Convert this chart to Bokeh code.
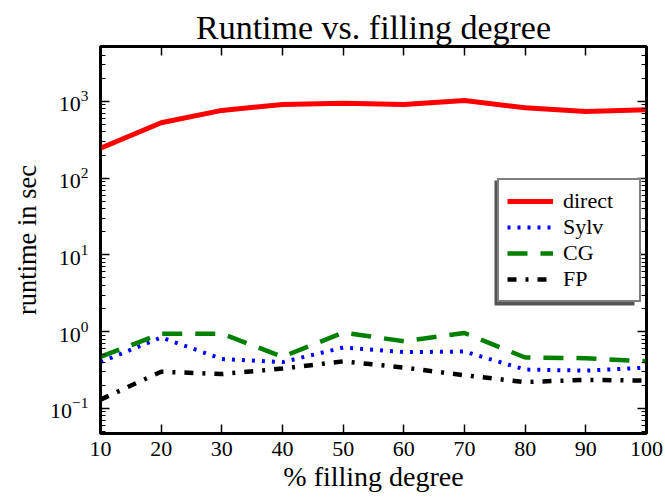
from bokeh.plotting import figure
from bokeh.models import (Legend, LegendItem, LinearAxis, LogAxis, SingleIntervalTicker,
                          LogTicker, Range1d, CustomJSTickFormatter, BoxAnnotation)
from bokeh.embed import file_html
from bokeh.resources import INLINE

fill = [10, 20, 30, 40, 50, 60, 70, 80, 90, 100]
direct = [245, 527, 764, 912, 950, 912, 1030, 828, 742, 780]
sylv = [0.40, 0.84, 0.44, 0.40, 0.62, 0.54, 0.55, 0.32, 0.31, 0.34]
cg = [0.47, 0.94, 0.94, 0.47, 0.97, 0.75, 0.96, 0.46, 0.45, 0.41]
fp = [0.13, 0.30, 0.28, 0.33, 0.41, 0.34, 0.27, 0.22, 0.235, 0.23]

FONT = "Liberation Serif"

p = figure(width=665, height=501, output_backend="svg", toolbar_location=None,
           y_axis_type="log", x_range=Range1d(10, 100), y_range=Range1d(0.047, 5200),
           min_border_left=100, min_border_right=19, min_border_top=46, min_border_bottom=68)
p.grid.visible = False
p.title.text = "Runtime vs. filling degree"
p.title.text_font = FONT
p.title.text_font_size = "34px"
p.title.text_font_style = "normal"
p.title.text_color = "black"
p.title.align = "center"
p.title.standoff = 2
p.outline_line_color = "black"
p.outline_line_width = 3
p.background_fill_color = "white"
p.border_fill_color = "white"

p.xaxis.ticker = SingleIntervalTicker(interval=10, num_minor_ticks=0)
p.yaxis.ticker = LogTicker(num_minor_ticks=10)
for ax in [p.xaxis[0], p.yaxis[0]]:
    ax.major_label_text_font = FONT
    ax.major_label_text_font_size = "22px"
    ax.major_label_text_color = "black"
    ax.axis_label_text_font = FONT
    ax.axis_label_text_font_style = "normal"
    ax.axis_label_text_color = "black"
    ax.major_tick_in = 9
    ax.major_tick_out = 0
    ax.minor_tick_in = 5
    ax.minor_tick_out = 0
    ax.axis_line_width = 2
    ax.major_tick_line_width = 1.5
p.xaxis.axis_label = "% filling degree"
p.yaxis.axis_label = "runtime in sec"
p.xaxis.axis_label_text_font_size = "28px"
p.yaxis.axis_label_text_font_size = "26.5px"
p.xaxis.major_label_standoff = 8
p.yaxis.major_label_standoff = 12
p.xaxis.axis_label_standoff = 2
p.yaxis.axis_label_standoff = 5

blank = CustomJSTickFormatter(code="return '';")
top = LinearAxis(ticker=SingleIntervalTicker(interval=10, num_minor_ticks=0),
                 formatter=blank, major_label_standoff=0, major_tick_in=9, major_tick_out=0,
                 minor_tick_in=0, minor_tick_out=0, axis_line_width=2, major_tick_line_width=1.5)
right = LogAxis(ticker=LogTicker(num_minor_ticks=10), formatter=blank, major_label_standoff=0,
                major_tick_in=9, major_tick_out=0, minor_tick_in=5, minor_tick_out=0,
                axis_line_width=2, major_tick_line_width=1.5)
p.add_layout(top, "above")
p.add_layout(right, "right")

r1 = p.line(fill, direct, line_color="#ff0000", line_width=5)
r2 = p.line(fill, sylv, line_color="#0000ff", line_width=4, line_dash="3 7")
r3 = p.line(fill, cg, line_color="#008000", line_width=4.5, line_dash="20 13")
r4 = p.line(fill, fp, line_color="black", line_width=4.5, line_dash="9 9 3 9")

shadow = BoxAnnotation(left=394, right=534, bottom=128, top=253,
                       left_units="screen", right_units="screen",
                       bottom_units="screen", top_units="screen",
                       fill_color="#555555", fill_alpha=1, line_color=None)
p.add_layout(shadow)

legend = Legend(items=[LegendItem(label="direct", renderers=[r1]),
                       LegendItem(label="Sylv", renderers=[r2]),
                       LegendItem(label="CG", renderers=[r3]),
                       LegendItem(label="FP", renderers=[r4])],
                location=(397, 131))
legend.label_text_font = FONT
legend.label_text_font_size = "22px"
legend.label_text_color = "black"
legend.glyph_width = 46
legend.glyph_height = 20
legend.label_height = 20
legend.label_width = 68
legend.spacing = 0
legend.padding = 8
legend.margin = 0
legend.label_standoff = 10
legend.border_line_color = "black"
legend.border_line_width = 2
legend.background_fill_alpha = 1
p.add_layout(legend, "center")

with open("out.html", "w") as f:
    f.write(file_html(p, INLINE))
